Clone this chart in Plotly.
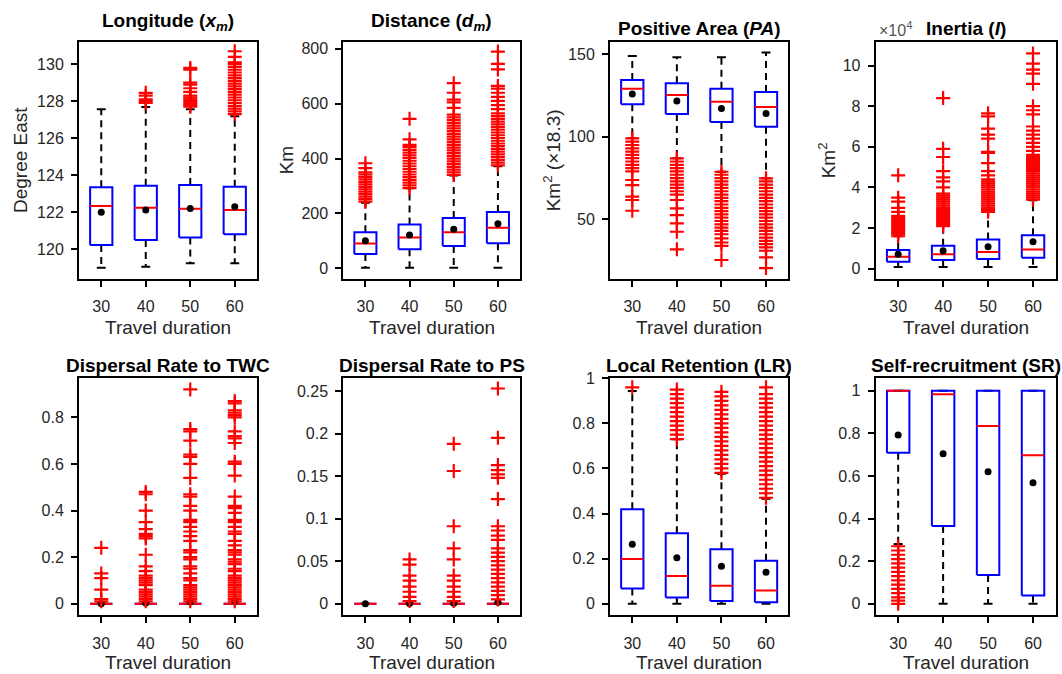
import plotly.graph_objects as go

W, H = 1062, 674
FONT = "Liberation Sans, Arial, Helvetica, sans-serif"
TXT = "#262626"

cats = ["30", "40", "50", "60"]

# ---------------- Longitude ----------------
lon_q1 = [120.22, 120.49, 120.63, 120.80]
lon_med = [122.33, 122.24, 122.18, 122.11]
lon_q3 = [123.34, 123.43, 123.47, 123.37]
lon_lo = [118.99, 119.04, 119.23, 119.23]
lon_hi = [127.56, 127.69, 127.56, 127.18]
lon_mean = [122.00, 122.11, 122.20, 122.29]
lon_out = [
    [],
    [127.9, 128.0, 128.1, 128.3, 128.45],
    [127.7, 127.8, 127.9, 128.0, 128.1, 128.2, 128.3, 128.5, 128.7, 128.9, 129.0, 129.7, 129.8],
    [127.3, 127.45, 127.6, 127.75, 127.9, 128.05, 128.2, 128.35, 128.5, 128.65, 128.8, 128.95,
     129.1, 129.25, 129.4, 129.55, 129.7, 129.85, 130.0, 130.1, 130.4, 130.7],
]

# ---------------- Distance ----------------
dist_q1 = [52, 69, 81, 91]
dist_med = [90, 112, 131, 148]
dist_q3 = [131, 160, 183, 205]
dist_lo = [2, 2, 2, 2]
dist_hi = [239, 292, 338, 372]
dist_mean = [100, 121, 142, 162]
dist_out = [
    [243, 252, 261, 270, 279, 288, 297, 306, 315, 324, 333, 342, 350, 365, 383],
    [292, 302, 312, 322, 332, 342, 352, 362, 372, 382, 392, 402, 412, 422, 432, 442, 450, 470, 545],
    [340, 350, 360, 370, 380, 390, 400, 410, 420, 430, 440, 450, 460, 470, 480, 490, 500, 510,
     520, 530, 540, 550, 560, 585, 605, 615, 640, 675],
    [375, 385, 395, 405, 415, 425, 435, 445, 455, 465, 475, 485, 495, 505, 515, 525, 535, 545,
     555, 565, 580, 595, 610, 625, 640, 655, 665, 725, 745, 790],
]

# ---------------- Positive Area ----------------
pa_q1 = [119.6, 113.7, 108.9, 106.0]
pa_med = [129.0, 125.2, 121.1, 118.0]
pa_q3 = [134.3, 132.3, 129.0, 127.0]
pa_lo = [99.2, 86.9, 78.8, 74.8]
pa_hi = [148.8, 148.0, 148.0, 151.0]
pa_mean = [125.8, 121.6, 117.1, 114.1]
pa_out = [
    [99, 97, 95, 93, 91, 89, 87, 85, 83, 81, 79, 73.8, 70.7, 63.7, 61.7, 55.2],
    [86.9, 85, 83, 81, 79, 77, 75, 73, 71, 69, 67, 65, 61.7, 56.7, 52.6, 47.6, 42.5, 31.9],
    [78.8, 77, 75, 73, 71, 69, 67, 65, 63, 61, 59, 57, 55, 53, 51, 49, 47, 45, 43, 41, 38.5, 36, 34, 25.4],
    [74.8, 73, 71, 69, 67, 65, 63, 61, 59, 57, 55, 53, 51, 49, 47, 45, 43, 41, 39, 37, 35, 33, 31, 27, 20.5],
]

# ---------------- Inertia (x 10^4 Km^2) ----------------
in_q1 = [0.34, 0.43, 0.48, 0.54]
in_med = [0.59, 0.71, 0.83, 0.95]
in_q3 = [0.92, 1.13, 1.44, 1.65]
in_lo = [0.08, 0.08, 0.08, 0.08]
in_hi = [1.60, 2.19, 2.85, 3.37]
in_mean = [0.71, 0.88, 1.08, 1.33]
in_out = [
    [1.6, 1.7, 1.8, 1.9, 2.0, 2.1, 2.2, 2.3, 2.4, 2.5, 2.6, 2.8, 3.0, 3.3, 3.5, 4.6],
    [2.1, 2.2, 2.3, 2.4, 2.5, 2.6, 2.7, 2.8, 2.9, 3.0, 3.1, 3.2, 3.3, 3.4, 3.5, 3.6, 3.7,
     4.0, 4.3, 4.5, 4.8, 5.5, 5.9, 8.4],
    [2.8, 2.9, 3.0, 3.1, 3.2, 3.3, 3.4, 3.5, 3.6, 3.7, 3.8, 3.9, 4.0, 4.1, 4.2, 4.3, 4.4,
     4.6, 4.8, 5.2, 5.7, 5.75, 6.4, 6.6, 6.9, 7.5, 7.65],
    [3.4, 3.5, 3.6, 3.7, 3.8, 3.9, 4.0, 4.1, 4.2, 4.3, 4.4, 4.5, 4.6, 4.7, 4.8, 4.9, 5.0,
     5.1, 5.2, 5.3, 5.4, 5.5, 5.6, 5.8, 6.0, 6.2, 6.4, 6.6, 6.8, 7.0, 7.6, 7.8, 8.0,
     9.1, 9.6, 9.8, 10.1, 10.6],
]

# ---------------- Dispersal rate to TWC ----------------
twc_q1 = [0, 0, 0, 0]
twc_med = [0, 0, 0, 0]
twc_q3 = [0, 0, 0, 0]
twc_lo = [0, 0, 0, 0]
twc_hi = [0, 0, 0, 0]
twc_mean = [0.0, 0.003, 0.008, 0.013]
twc_out = [
    [0.24, 0.13, 0.11, 0.06, 0.02, 0.01],
    [0.48, 0.47, 0.40, 0.35, 0.32, 0.30, 0.29, 0.28, 0.21, 0.16, 0.14, 0.12, 0.11, 0.10,
     0.09, 0.08, 0.06, 0.05, 0.04, 0.03, 0.02, 0.01],
    [0.92, 0.75, 0.74, 0.70, 0.64, 0.63, 0.60, 0.54, 0.47, 0.46, 0.42, 0.40, 0.36, 0.35,
     0.33, 0.31, 0.29, 0.27, 0.23, 0.22, 0.20, 0.19, 0.16, 0.15, 0.13, 0.11, 0.10, 0.08,
     0.07, 0.06, 0.05, 0.04, 0.03, 0.02, 0.01],
    [0.87, 0.86, 0.83, 0.82, 0.81, 0.80, 0.74, 0.72, 0.71, 0.69, 0.61, 0.60, 0.55, 0.46,
     0.42, 0.41, 0.39, 0.36, 0.35, 0.33, 0.31, 0.30, 0.27, 0.25, 0.23, 0.22, 0.21, 0.19,
     0.18, 0.17, 0.15, 0.14, 0.12, 0.11, 0.10, 0.09, 0.08, 0.07, 0.06, 0.05, 0.04, 0.03,
     0.02, 0.01],
]

# ---------------- Dispersal rate to PS ----------------
ps_q1 = [0, 0, 0, 0]
ps_med = [0, 0, 0, 0]
ps_q3 = [0, 0, 0, 0]
ps_lo = [0, 0, 0, 0]
ps_hi = [0, 0, 0, 0]
ps_mean = [0.0, 0.0003, 0.0005, 0.0015]
ps_out = [
    [],
    [0.052, 0.046, 0.033, 0.027, 0.020, 0.014, 0.008, 0.003],
    [0.188, 0.156, 0.091, 0.065, 0.052, 0.033, 0.027, 0.020, 0.014, 0.008, 0.003],
    [0.253, 0.195, 0.163, 0.157, 0.152, 0.148, 0.123, 0.091, 0.086, 0.080, 0.075, 0.065,
     0.060, 0.055, 0.050, 0.045, 0.040, 0.035, 0.030, 0.025, 0.020, 0.015, 0.010, 0.005],
]

# ---------------- Local Retention ----------------
lr_q1 = [0.067, 0.028, 0.012, 0.006]
lr_med = [0.198, 0.123, 0.080, 0.059]
lr_q3 = [0.419, 0.312, 0.241, 0.191]
lr_lo = [0, 0, 0, 0]
lr_hi = [0.944, 0.730, 0.576, 0.466]
lr_mean = [0.264, 0.204, 0.166, 0.139]
lr_out = [
    [0.96],
    [0.73, 0.75, 0.77, 0.79, 0.81, 0.83, 0.85, 0.87, 0.89, 0.91, 0.93, 0.95],
    [0.58, 0.60, 0.62, 0.64, 0.66, 0.68, 0.70, 0.72, 0.74, 0.76, 0.78, 0.80, 0.82, 0.84,
     0.86, 0.88, 0.90, 0.92, 0.94],
    [0.47, 0.49, 0.51, 0.53, 0.55, 0.57, 0.59, 0.61, 0.63, 0.65, 0.67, 0.69, 0.71, 0.73,
     0.75, 0.77, 0.79, 0.81, 0.83, 0.85, 0.87, 0.89, 0.91, 0.93, 0.96],
]

# ---------------- Self-recruitment ----------------
sr_q1 = [0.709, 0.365, 0.135, 0.039]
sr_med = [1.0, 0.983, 0.834, 0.697]
sr_q3 = [1.0, 1.0, 1.0, 1.0]
sr_lo = [0.28, 0, 0, 0]
sr_hi = [1.0, 1.0, 1.0, 1.0]
sr_mean = [0.792, 0.704, 0.62, 0.568]
sr_out = [
    [0.0, 0.015, 0.03, 0.05, 0.07, 0.09, 0.11, 0.13, 0.15, 0.17, 0.19, 0.21, 0.23, 0.25, 0.27],
    [], [], [],
]

panels = [
    dict(s=(lon_q1, lon_med, lon_q3, lon_lo, lon_hi, lon_mean, lon_out),
         yr=[118.4, 131.2], tv=[120, 122, 124, 126, 128, 130], tt=["120", "122", "124", "126", "128", "130"]),
    dict(s=(dist_q1, dist_med, dist_q3, dist_lo, dist_hi, dist_mean, dist_out),
         yr=[-38, 825], tv=[0, 200, 400, 600, 800], tt=["0", "200", "400", "600", "800"]),
    dict(s=(pa_q1, pa_med, pa_q3, pa_lo, pa_hi, pa_mean, pa_out),
         yr=[14.1, 157.3], tv=[50, 100, 150], tt=["50", "100", "150"]),
    dict(s=(in_q1, in_med, in_q3, in_lo, in_hi, in_mean, in_out),
         yr=[-0.49, 11.16], tv=[0, 2, 4, 6, 8, 10], tt=["0", "2", "4", "6", "8", "10"]),
    dict(s=(twc_q1, twc_med, twc_q3, twc_lo, twc_hi, twc_mean, twc_out),
         yr=[-0.05, 0.968], tv=[0, 0.2, 0.4, 0.6, 0.8], tt=["0", "0.2", "0.4", "0.6", "0.8"]),
    dict(s=(ps_q1, ps_med, ps_q3, ps_lo, ps_hi, ps_mean, ps_out),
         yr=[-0.0137, 0.265], tv=[0, 0.05, 0.1, 0.15, 0.2, 0.25],
         tt=["0", "0.05", "0.1", "0.15", "0.2", "0.25"]),
    dict(s=(lr_q1, lr_med, lr_q3, lr_lo, lr_hi, lr_mean, lr_out),
         yr=[-0.0515, 1.0], tv=[0, 0.2, 0.4, 0.6, 0.8, 1], tt=["0", "0.2", "0.4", "0.6", "0.8", "1"]),
    dict(s=(sr_q1, sr_med, sr_q3, sr_lo, sr_hi, sr_mean, sr_out),
         yr=[-0.054, 1.058], tv=[0, 0.2, 0.4, 0.6, 0.8, 1], tt=["0", "0.2", "0.4", "0.6", "0.8", "1"]),
]

titles = [
    "<b>Longitude (<i>x</i><sub><i>m</i></sub>)</b>",
    "<b>Distance (<i>d</i><sub><i>m</i></sub>)</b>",
    "<b>Positive Area (<i>PA</i>)</b>",
    "<b>Inertia (<i>I</i>)</b>",
    "<b>Dispersal Rate to TWC</b>",
    "<b>Dispersal Rate to PS</b>",
    "<b>Local Retention (LR)</b>",
    "<b>Self-recruitment (SR)</b>",
]
ytitles = ["Degree East", "Km", "Km<sup>2</sup> (×18.3)", "Km<sup>2</sup>"]
xtitle = "Travel duration"

# layout geometry (pixels)
col_px = [(79, 257), (343.3, 520), (610, 788.3), (875.7, 1055.5)]
row_px = [(42, 278.7), (378.3, 615.3)]
ytitle_x = [20.7, 286, 552, 827]
title_y = [[22, 22, 29, 29], [365, 365, 365, 365]]
xtitle_y = [328, 662]

BW = 0.25   # box half width
CW = 0.10   # cap half width

fig = go.Figure()
layout = dict(template="none", width=W, height=H, margin=dict(l=0, r=0, t=0, b=0, pad=0),
              autosize=False, paper_bgcolor="white", plot_bgcolor="white", showlegend=False,
              font=dict(family=FONT, color=TXT))
annotations = []

for k, p in enumerate(panels):
    r, c = divmod(k, 4)
    xa = "x" if k == 0 else f"x{k+1}"
    ya = "y" if k == 0 else f"y{k+1}"
    q1, med, q3, lo, hi, mean, outs = p["s"]
    wx, wy, cx, cy, bx, by, mx, my = [], [], [], [], [], [], [], []
    ox, oy = [], []
    for i in range(len(cats)):
        wx += [i, i, None, i, i, None]
        wy += [q3[i], hi[i], None, q1[i], lo[i], None]
        cx += [i - CW, i + CW, None, i - CW, i + CW, None]
        cy += [hi[i], hi[i], None, lo[i], lo[i], None]
        bx += [i - BW, i + BW, i + BW, i - BW, i - BW, None]
        by += [q1[i], q1[i], q3[i], q3[i], q1[i], None]
        mx += [i - BW, i + BW, None]
        my += [med[i], med[i], None]
        ox += [i] * len(outs[i])
        oy += list(outs[i])
    common = dict(xaxis=xa, yaxis=ya, hoverinfo="skip", showlegend=False)
    fig.add_trace(go.Scatter(x=wx, y=wy, mode="lines",
                             line=dict(color="black", width=2, dash="7px,5px"), **common))
    fig.add_trace(go.Scatter(x=cx, y=cy, mode="lines", line=dict(color="black", width=2), **common))
    fig.add_trace(go.Scatter(x=bx, y=by, mode="lines", line=dict(color="#0000FF", width=2), **common))
    fig.add_trace(go.Scatter(x=mx, y=my, mode="lines", line=dict(color="#FF0000", width=2), **common))
    fig.add_trace(go.Scatter(x=list(range(len(cats))), y=mean, mode="markers",
                             marker=dict(color="black", size=7, symbol="circle"), **common))
    fig.add_trace(go.Scatter(x=ox, y=oy, mode="markers",
                             marker=dict(symbol="cross-thin", size=10,
                                         line=dict(color="#FF0000", width=2.2)), **common))

    x0, x1 = col_px[c]
    y0, y1 = row_px[r]
    axcommon = dict(showline=True, mirror=True, linecolor="black", linewidth=2,
                    ticks="outside", ticklen=6, tickwidth=1.5, tickcolor="black",
                    showgrid=False, zeroline=False, fixedrange=True, automargin=False,
                    tickfont=dict(family=FONT, size=16, color=TXT))
    layout["xaxis" if k == 0 else f"xaxis{k+1}"] = dict(
        domain=[x0 / W, x1 / W], range=[-0.5, 3.5], anchor=ya,
        tickmode="array", tickvals=list(range(len(cats))), ticktext=cats,
        ticklabelstandoff=6, **axcommon)
    layout["yaxis" if k == 0 else f"yaxis{k+1}"] = dict(
        domain=[1 - y1 / H, 1 - y0 / H], range=p["yr"], anchor=xa,
        tickmode="array", tickvals=p["tv"], ticktext=p["tt"],
        ticklabelstandoff=4, **axcommon)

    annotations.append(dict(text=titles[k], x=(x0 + x1) / 2 / W, y=1 - title_y[r][c] / H,
                            xref="paper", yref="paper", xanchor="center", yanchor="middle",
                            showarrow=False, font=dict(family=FONT, size=19, color="black")))
    annotations.append(dict(text=xtitle, x=(x0 + x1) / 2 / W, y=1 - xtitle_y[r] / H,
                            xref="paper", yref="paper", xanchor="center", yanchor="middle",
                            showarrow=False, font=dict(family=FONT, size=19, color=TXT)))
    if r == 0:
        annotations.append(dict(text=ytitles[c], x=ytitle_x[c] / W, y=1 - (y0 + y1) / 2 / H,
                                xref="paper", yref="paper", xanchor="center", yanchor="middle",
                                textangle=-90, showarrow=False,
                                font=dict(family=FONT, size=19, color=TXT)))

annotations.append(dict(text="×10<sup>4</sup>", x=877 / W, y=1 - 29 / H, xref="paper", yref="paper",
                        xanchor="left", yanchor="middle", showarrow=False,
                        font=dict(family=FONT, size=16, color="#555555")))

layout["annotations"] = annotations
fig.update_layout(**layout)
fig.write_html("out.html", config={"displayModeBar": False},
               post_script="document.body.style.margin='0';document.body.style.overflow='hidden';")
